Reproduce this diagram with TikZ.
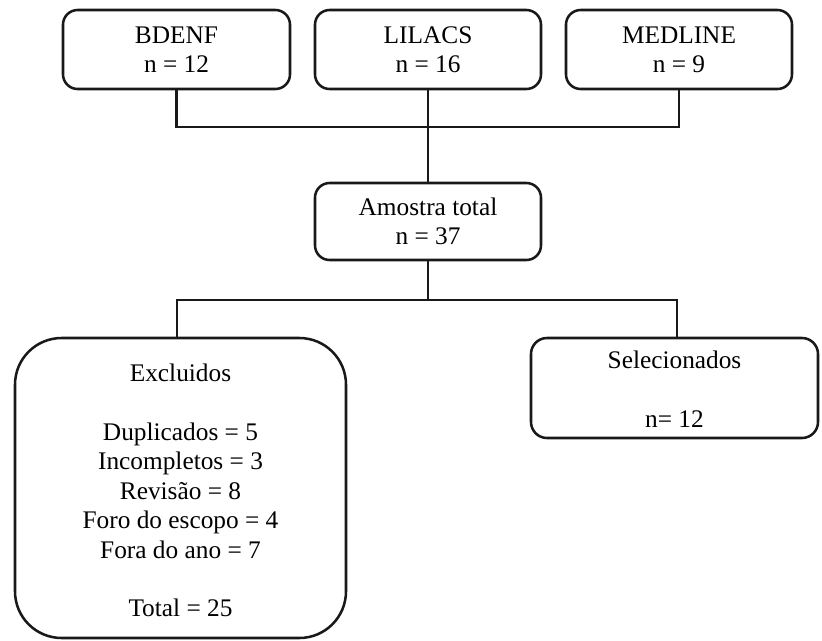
\documentclass[tikz,border=0pt]{standalone}
\usepackage{fontspec}
\setmainfont{Liberation Serif}
\begin{document}
\begin{tikzpicture}[x=0.75pt,y=-0.75pt,
  box/.style={draw=black!90,line width=1.9pt,rounded corners=11pt,inner sep=0pt},
  conn/.style={draw=black!90,line width=1.9pt},
  lbl/.style={font=\fontsize{19}{22}\selectfont,anchor=base,inner sep=0pt}]
\useasboundingbox (0,0) rectangle (822,640);
% top boxes
\node[box,minimum width=170.25pt,minimum height=59.25pt] (bd) at (176.5,49.5) {};
\node[box,minimum width=169.5pt,minimum height=59.25pt] (li) at (428,49.5) {};
\node[box,minimum width=169.5pt,minimum height=59.25pt] (me) at (679,49.5) {};
\node[lbl] at (176.5,43) {BDENF};
\node[lbl] at (176.5,72) {n = 12};
\node[lbl] at (428,43) {LILACS};
\node[lbl] at (428,72) {n = 16};
\node[lbl] at (679,43) {MEDLINE};
\node[lbl] at (679,72) {n = 9};
% amostra
\node[box,minimum width=169.5pt,minimum height=57.75pt] (am) at (428,221.5) {};
\node[lbl] at (428,215) {Amostra total};
\node[lbl] at (428,244) {n = 37};
% excluidos
\node[box,rounded corners=35pt,minimum width=248.25pt,minimum height=225pt] (ex) at (180.5,488) {};
\node[lbl] at (180.5,381) {Excluidos};
\node[lbl] at (180.5,440) {Duplicados = 5};
\node[lbl] at (180.5,469.5) {Incompletos = 3};
\node[lbl] at (180.5,499) {Revisão = 8};
\node[lbl] at (180.5,528.5) {Foro do escopo = 4};
\node[lbl] at (180.5,558) {Fora do ano = 7};
\node[lbl] at (180.5,616) {Total = 25};
% selecionados
\node[box,rounded corners=12pt,minimum width=215.25pt,minimum height=75pt] (se) at (674.5,388) {};
\node[lbl] at (674.5,368) {Selecionados};
\node[lbl] at (674.5,427) {n= 12};
% connectors
\coordinate (j1) at (428,127);
\coordinate (j2) at (428,300);
\coordinate (exin) at (177,338);
\coordinate (sein) at (677,338);
\draw[conn] (bd.south) |- (j1) -| (me.south);
\draw[conn] (li.south) -- (j1) -- (am.north);
\draw[conn] (am.south) -- (j2);
\draw[conn] (exin) |- (j2) -| (sein);
\end{tikzpicture}
\end{document}
